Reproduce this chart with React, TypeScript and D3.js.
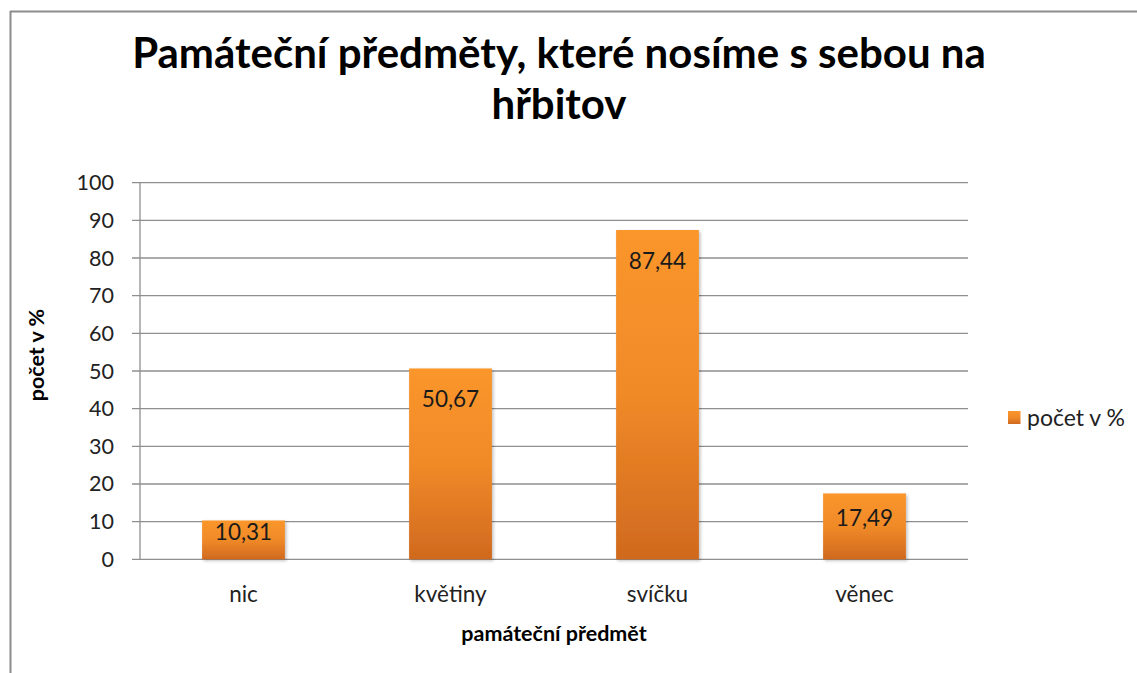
import React from "react";
import * as d3 from "d3";

const categories = ["nic", "květiny", "svíčku", "věnec"];
const values = [10.31, 50.67, 87.44, 17.49];
const valueLabels = ["10,31", "50,67", "87,44", "17,49"];
const yTicks = [0, 10, 20, 30, 40, 50, 60, 70, 80, 90, 100];
const titleLines = ["Památeční předměty, které nosíme s sebou na", "hřbitov"];
const seriesName = "počet v %";
const xTitle = "památeční předmět";
const yTitle = "počet v %";

const W = 1137;
const H = 673;
const FONT = "Lato, 'Open Sans', sans-serif";

export default function App() {
  const left = 140, right = 968, top = 182.7, bottom = 559.3;
  const x = d3.scaleBand<string>().domain(categories).range([left, right]).paddingInner(0.6).paddingOuter(0.3);
  const y = d3.scaleLinear().domain([0, 100]).range([bottom, top]);

  return (
    <svg width={W} height={H} style={{ position: "absolute", left: 0, top: 0, background: "#fff" }}>
      <defs>
        <linearGradient id="barGrad" x1="0" y1="0" x2="0" y2="1">
          <stop offset="0%" stopColor="#fa962c" />
          <stop offset="50%" stopColor="#f08a28" />
          <stop offset="100%" stopColor="#d0691e" />
        </linearGradient>
        <filter id="shadow" x="-10%" y="-10%" width="130%" height="130%">
          <feDropShadow dx="1.5" dy="1.5" stdDeviation="1.5" floodColor="#000" floodOpacity="0.25" />
        </filter>
      </defs>
      <rect x={0} y={0} width={W} height={H} fill="#fff" />
      {/* outer border */}
      <line x1={10.5} y1={11} x2={10.5} y2={H} stroke="#8c8c8c" strokeWidth={2} />
      <line x1={10} y1={11.5} x2={W} y2={11.5} stroke="#8c8c8c" strokeWidth={2} />

      {/* title */}
      {titleLines.map((t, i) => (
        <text key={i} x={559} y={68 + i * 51} textAnchor="middle" fontFamily={FONT} fontWeight="bold" fontSize={42} fill="#000">
          {t}
        </text>
      ))}

      {/* gridlines and y ticks */}
      {yTicks.map((v) => (
        <g key={v}>
          <line x1={left - 8} x2={right} y1={y(v)} y2={y(v)} stroke="#8f8f8f" strokeWidth={1.3} />
          <text x={114} y={y(v) + 7.5} textAnchor="end" fontFamily={FONT} fontSize={21.5} fill="#222">
            {v}
          </text>
        </g>
      ))}
      <line x1={left} x2={left} y1={top} y2={bottom} stroke="#8f8f8f" strokeWidth={1.3} />

      {/* bars */}
      {categories.map((c, i) => {
        const yt = y(values[i]);
        const h = bottom - yt;
        const cx = (x(c) ?? 0) + x.bandwidth() / 2;
        return (
          <g key={c}>
            <rect x={x(c)} y={yt} width={x.bandwidth()} height={h} fill="url(#barGrad)" filter="url(#shadow)" />
            <text x={cx} y={yt + Math.min(38.5, h * 0.5)} textAnchor="middle" fontFamily={FONT} fontSize={22.5} fill="#1a1a1a">
              {valueLabels[i]}
            </text>
            <text x={cx} y={602} textAnchor="middle" fontFamily={FONT} fontSize={22.5} fill="#222">
              {c}
            </text>
          </g>
        );
      })}

      {/* axis titles */}
      <text x={554} y={641} textAnchor="middle" fontFamily={FONT} fontWeight="bold" fontSize={21.5} fill="#000">
        {xTitle}
      </text>
      <text transform={`translate(44, 355) rotate(-90)`} textAnchor="middle" fontFamily={FONT} fontWeight="bold" fontSize={21.5} fill="#000">
        {yTitle}
      </text>

      {/* legend */}
      <rect x={1008} y={411} width={12.5} height={13} fill="url(#barGrad)" />
      <text x={1027} y={426} fontFamily={FONT} fontSize={23} fill="#222">
        {seriesName}
      </text>
    </svg>
  );
}
